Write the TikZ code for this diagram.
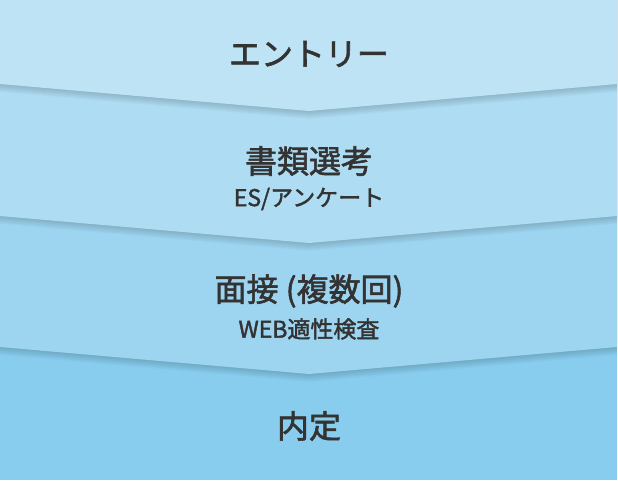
\documentclass[tikz,border=0pt]{standalone}
\usepackage{fontspec}
\newfontfamily\jpfont[FakeBold=1.8]{Noto Sans CJK JP}
\definecolor{stepA}{HTML}{BEE3F5}
\definecolor{stepB}{HTML}{AEDCF2}
\definecolor{stepC}{HTML}{9DD5F0}
\definecolor{stepD}{HTML}{88CCEE}
\definecolor{textgray}{HTML}{333333}
\begin{document}
\begin{tikzpicture}[x=1pt,y=-1pt,
  title/.style={font=\jpfont\fontsize{32}{32}\selectfont,text=textgray,inner sep=0pt},
  sub/.style={font=\jpfont\fontsize{23}{23}\selectfont,text=textgray,inner sep=0pt}]
% Page
\fill[white] (0,0) rectangle (618,481);
\useasboundingbox (0,0) rectangle (618,481);

% Last band
\fill[stepD] (0,0) rectangle (617,480);

% Chevron bands (drawn bottom up, each with a soft shadow)
\foreach \side/\tip/\col in {347/374/stepC,216/243/stepB,84/111/stepA} {
  \foreach \d in {1,...,8} {
    \fill[black,fill opacity=0.018] (0,0) -- (617,0) -- (617,\side+\d) -- (309,\tip+\d) -- (0,\side+\d) -- cycle;
  }
  \fill[\col] (0,0) -- (617,0) -- (617,\side) -- (309,\tip) -- (0,\side) -- cycle;
}

% Labels
\node[title] (entry) at (309,54) {エントリー};
\node[title] (shorui) at (309,161) {書類選考};
\node[sub] (es) at (309,199) {ES/アンケート};
\node[title] (mensetsu) at (309,291) {面接 (複数回)};
\node[sub] (web) at (309,329) {WEB適性検査};
\node[title] (naitei) at (309,426) {内定};

\end{tikzpicture}
\end{document}
